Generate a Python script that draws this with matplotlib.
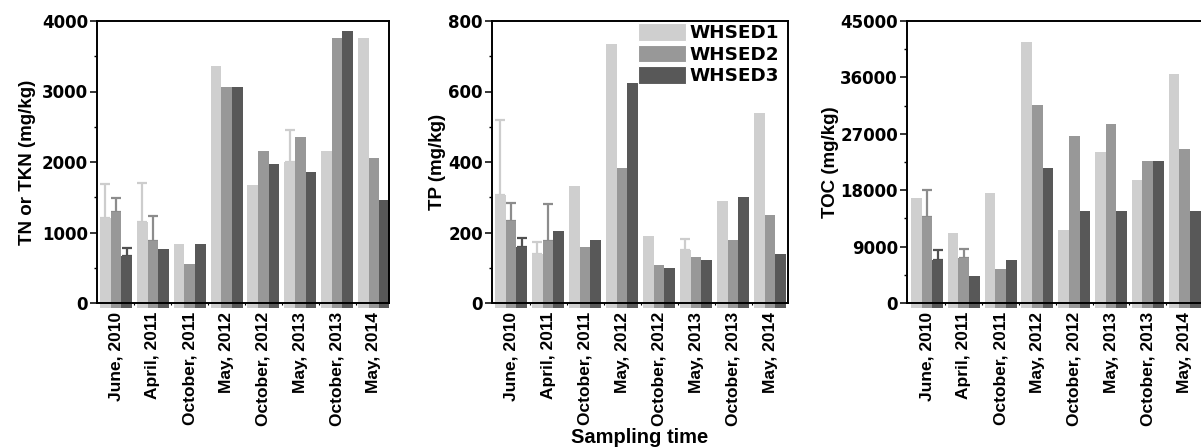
import numpy as np
import matplotlib
matplotlib.use("Agg")
import matplotlib.pyplot as plt
from matplotlib.ticker import MultipleLocator, FixedLocator

categories = ["June, 2010", "April, 2011", "October, 2011", "May, 2012",
              "October, 2012", "May, 2013", "October, 2013", "May, 2014"]
series_names = ["WHSED1", "WHSED2", "WHSED3"]

tn_w1 = [1200, 1155, 840, 3360, 1675, 2005, 2160, 3760]
tn_w2 = [1285, 885, 555, 3065, 2155, 2355, 3760, 2050]
tn_w3 = [660, 765, 840, 3065, 1970, 1865, 3860, 1455]
tn_e1 = [485, 545, 0, 0, 0, 445, 0, 0]
tn_e2 = [210, 355, 0, 0, 0, 0, 0, 0]
tn_e3 = [120, 0, 0, 0, 0, 0, 0, 0]

tp_w1 = [306, 140, 331, 734, 189, 150, 289, 540]
tp_w2 = [233, 176, 159, 382, 107, 131, 180, 249]
tp_w3 = [159, 205, 180, 623, 100, 121, 301, 138]
tp_e1 = [213, 32, 0, 0, 0, 32, 0, 0]
tp_e2 = [51, 104, 0, 0, 0, 0, 0, 0]
tp_e3 = [25, 0, 0, 0, 0, 0, 0, 0]

toc_w1 = [16800, 11170, 17620, 41660, 11600, 24100, 19580, 36610]
toc_w2 = [13730, 7240, 5490, 31550, 26650, 28520, 22620, 24640]
toc_w3 = [6930, 4260, 6810, 21610, 14630, 14630, 22620, 14630]
toc_e1 = [0, 0, 0, 0, 0, 0, 0, 0]
toc_e2 = [4370, 1440, 0, 0, 0, 0, 0, 0]
toc_e3 = [1480, 0, 0, 0, 0, 0, 0, 0]

colors = ["#cfcfcf", "#989898", "#585858"]
err_colors = ["#cdcdcd", "#8c8c8c", "#505050"]

W, H = 1201, 447
fig = plt.figure(figsize=(W / 100, H / 100), dpi=100)

AX_TOP, AX_ZERO, AX_BOT = 21, 303, 308
bw = 0.29

panels = [
    dict(left=97, width=292, gap=3, sp=36.85, top=4000, major=1000, minor=500,
         ylabel="TN or TKN (mg/kg)", labx=36,
         vals=(tn_w1, tn_w2, tn_w3), errs=(tn_e1, tn_e2, tn_e3)),
    dict(left=492, width=296, gap=3, sp=37.0, top=800, major=200, minor=100,
         ylabel="TP (mg/kg)", labx=446,
         vals=(tp_w1, tp_w2, tp_w3), errs=(tp_e1, tp_e2, tp_e3)),
    dict(left=907, width=296, gap=4, sp=36.8, top=45000, major=9000, minor=4500,
         ylabel="TOC (mg/kg)", labx=839,
         vals=(toc_w1, toc_w2, toc_w3), errs=(toc_e1, toc_e2, toc_e3)),
]

x = np.arange(len(categories))
axes = []
for p in panels:
    ax = fig.add_axes([p["left"] / W, (H - AX_BOT) / H, p["width"] / W, (AX_BOT - AX_TOP) / H])
    axes.append(ax)
    top = p["top"]
    ext = (AX_BOT - AX_ZERO) / (AX_ZERO - AX_TOP) * top
    ax.set_ylim(-ext, top)
    x0 = -1.5 * bw - p["gap"] / p["sp"]
    ax.set_xlim(x0, x0 + p["width"] / p["sp"])
    for k in range(3):
        vals = np.array(p["vals"][k], dtype=float)
        xs = x + (k - 1) * bw
        ax.bar(xs, vals + ext, bottom=-ext, width=bw, color=colors[k],
               edgecolor="none", zorder=2, label=series_names[k])
        errs = np.array(p["errs"][k], dtype=float)
        m = errs > 0
        if m.any():
            ax.errorbar(xs[m], vals[m], yerr=[np.zeros(m.sum()), errs[m]],
                        fmt="none", ecolor=err_colors[k], elinewidth=1.6,
                        capsize=3.6, capthick=1.6, zorder=1)
    for s in ax.spines.values():
        s.set_linewidth(1.4)
        s.set_zorder(3)
    ax.spines["bottom"].set_position(("data", 0))
    ax.spines["left"].set_bounds(0, top)
    ax.spines["right"].set_bounds(0, top)
    ax.yaxis.set_major_locator(MultipleLocator(p["major"]))
    ax.yaxis.set_minor_locator(MultipleLocator(p["minor"]))
    ax.tick_params(axis="y", which="major", direction="out", length=5, width=1.1, pad=1.5,
                   labelsize=12)
    ax.tick_params(axis="y", which="minor", direction="out", length=2.5, width=1.0)
    ax.set_xticks(x)
    ax.set_xticklabels(categories, rotation=90, fontsize=12.5, fontweight="bold",
                       family="Liberation Sans")
    ax.xaxis.set_minor_locator(FixedLocator(x[:-1] + 0.5))
    ax.tick_params(axis="x", which="major", direction="out", length=2.5, width=1.0, pad=4)
    ax.tick_params(axis="x", which="minor", direction="out", length=1.5, width=0.8)
    for lab in ax.get_yticklabels():
        lab.set_fontweight("bold")
        lab.set_family("DejaVu Sans")
    ax.set_ylabel(p["ylabel"], fontsize=13.5, fontweight="bold", family="Liberation Sans")
    ax.yaxis.set_label_coords((p["labx"] - p["left"]) / p["width"], (AX_BOT - (AX_TOP + AX_ZERO) / 2) / (AX_BOT - AX_TOP))

# legend on the middle panel
ax2 = axes[1]
leg = ax2.legend(loc="upper left", bbox_to_anchor=((638 - 492) / 296, 1 - 2 / (AX_BOT - AX_TOP)),
                 frameon=False, borderpad=0, borderaxespad=0,
                 handlelength=2.6, handleheight=1.1, labelspacing=0.14, handletextpad=0.2,
                 prop={"family": "DejaVu Sans", "weight": "bold", "size": 13.2})
for h in leg.legend_handles:
    h.set_edgecolor("white")
    h.set_linewidth(0.8)

fig.text(640 / W, 1 - 443 / H, "Sampling time", ha="center", va="baseline",
         fontsize=14.5, fontweight="bold", family="Liberation Sans")

fig.savefig("out.png", dpi=100)
